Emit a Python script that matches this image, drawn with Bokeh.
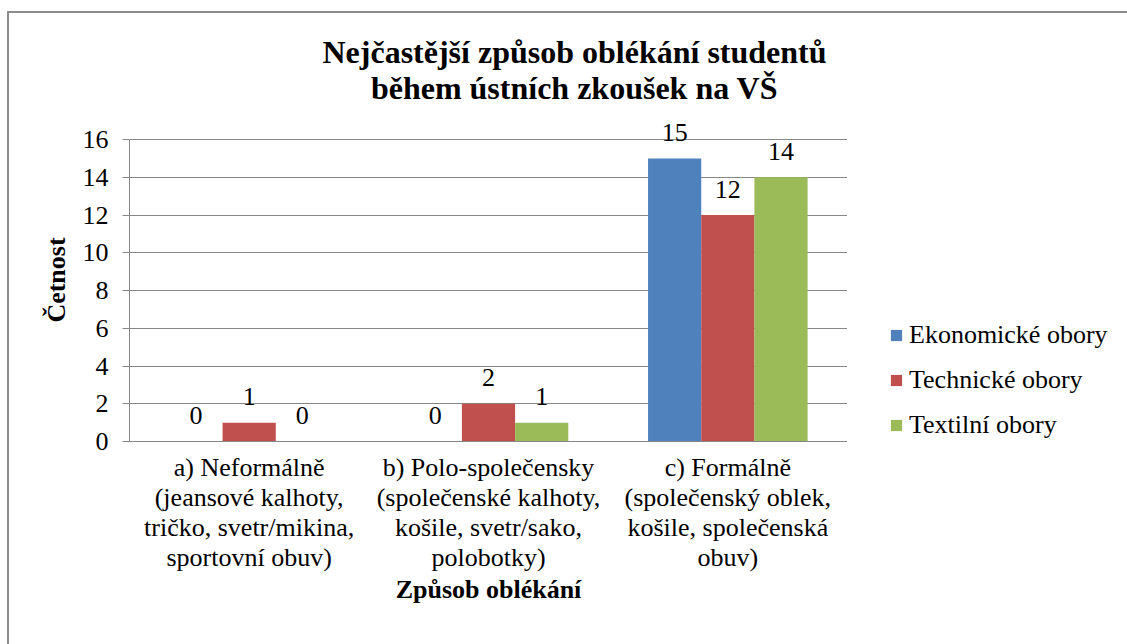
from bokeh.plotting import figure
from bokeh.layouts import column, row
from bokeh.models import (Range1d, FixedTicker, Legend, LegendItem, Label,
                          ColumnDataSource)
from bokeh.transform import dodge
from bokeh.core.properties import value
from bokeh.embed import file_html
from bokeh.resources import INLINE

# ---- data ----
categories = [
    "a) Neformálně\n(jeansové kalhoty,\ntričko, svetr/mikina,\nsportovní obuv)",
    "b) Polo-společensky\n(společenské kalhoty,\nkošile, svetr/sako,\npolobotky)",
    "c) Formálně\n(společenský oblek,\nkošile, společenská\nobuv)",
]
series_names = ["Ekonomické obory", "Technické obory", "Textilní obory"]
ekonomicke = [0, 0, 15]
technicke = [1, 2, 12]
textilni = [0, 1, 14]
series_values = [ekonomicke, technicke, textilni]
colors = ["#4F81BD", "#C0504D", "#9BBB59"]
y_ticks = [0, 2, 4, 6, 8, 10, 12, 14, 16]
title_lines = ["Nejčastější způsob oblékání studentů", "během ústních zkoušek na VŠ"]
y_label = "Četnost"
x_label = "Způsob oblékání"

FONT = "Liberation Serif"
GRAY = "#878787"
FS = "26px"

n_cat = len(categories)
cat_pos = [i + 0.5 for i in range(n_cat)]
y_max = y_ticks[-1]

# ---- sizes (whole chart 1118 x 631 inside a 7/11 px offset + 2 px border) ----
TOTAL_W, TOTAL_H = 1118, 631
TITLE_H = 105
MAIN_W = 838
LEG_W = TOTAL_W - MAIN_W
BODY_H = TOTAL_H - TITLE_H
LEFT = 120
BOTTOM = 203
data_h_px = 302
y_end = y_max * (BODY_H - BOTTOM) / data_h_px

# ---- title strip ----
ft = figure(width=TOTAL_W, height=TITLE_H, x_range=Range1d(0, 1), y_range=Range1d(0, 1),
            x_axis_type=None, y_axis_type=None, output_backend="svg",
            toolbar_location=None, min_border=0)
ft.outline_line_color = None
ft.grid.visible = False
for txt, yy in zip(title_lines, [67, 31]):
    ft.add_layout(Label(x=565, y=yy, x_units="screen", y_units="screen", text=txt,
                        text_align="center", text_baseline="middle",
                        text_font=FONT, text_font_style="bold",
                        text_font_size="32px", text_color="black"))

# ---- main chart ----
p = figure(width=MAIN_W, height=BODY_H,
           x_range=Range1d(0, n_cat), y_range=Range1d(0, y_end),
           output_backend="svg", toolbar_location=None,
           min_border_left=LEFT, min_border_right=0,
           min_border_top=0, min_border_bottom=BOTTOM)
p.outline_line_color = None
p.background_fill_color = "white"
p.border_fill_color = "white"

bar_w = 1 / 4.5
offsets = [-bar_w, 0.0, bar_w]
for name, vals, col, off in zip(series_names, series_values, colors, offsets):
    src = ColumnDataSource(dict(x=cat_pos, y=vals, label=[str(v) for v in vals]))
    p.vbar(x=dodge("x", off), top="y", width=bar_w,
           fill_color=col, line_color=None, source=src)
    p.text(x=dodge("x", off), y="y", text="label", source=src,
           text_align="center", text_baseline="middle", y_offset=-26,
           text_font=value(FONT), text_font_size=FS, text_color="black")

# y axis
p.yaxis.bounds = (0, y_max)
p.yaxis.ticker = FixedTicker(ticks=y_ticks)
p.yaxis.axis_line_color = GRAY
p.yaxis.major_tick_line_color = GRAY
p.yaxis.major_tick_out = 7
p.yaxis.major_tick_in = 0
p.yaxis.minor_tick_line_color = None
p.yaxis.major_label_text_font = FONT
p.yaxis.major_label_text_font_size = FS
p.yaxis.major_label_text_color = "black"
p.yaxis.major_label_standoff = 14
p.yaxis.axis_label = y_label
p.yaxis.axis_label_text_font = FONT
p.yaxis.axis_label_text_font_style = "bold"
p.yaxis.axis_label_text_font_size = FS
p.yaxis.axis_label_text_color = "black"
p.yaxis.axis_label_standoff = 9

p.xgrid.visible = False
p.ygrid.grid_line_color = GRAY
p.ygrid.grid_line_width = 1

# x axis
p.xaxis.bounds = (0, n_cat)
p.xaxis.ticker = FixedTicker(ticks=cat_pos)
p.xaxis.major_label_overrides = {pos: lab for pos, lab in zip(cat_pos, categories)}
p.xaxis.axis_line_color = GRAY
p.xaxis.major_tick_line_color = None
p.xaxis.minor_tick_line_color = None
p.xaxis.major_tick_out = 0
p.xaxis.major_tick_in = 0
p.xaxis.major_label_text_font = FONT
p.xaxis.major_label_text_font_size = FS
p.xaxis.major_label_text_color = "black"
p.xaxis.major_label_text_line_height = 1.04
p.xaxis.major_label_standoff = 11
p.xaxis.major_label_orientation = "horizontal"
p.xaxis.axis_label = x_label
p.xaxis.axis_label_text_font = FONT
p.xaxis.axis_label_text_font_style = "bold"
p.xaxis.axis_label_text_font_size = FS
p.xaxis.axis_label_text_color = "black"
p.xaxis.axis_label_standoff = 0

# ---- legend panel (its frame is aligned with the main plot frame) ----
pl = figure(width=LEG_W, height=BODY_H, x_range=Range1d(0, 1), y_range=Range1d(0, 1),
            x_axis_type=None, y_axis_type=None, output_backend="svg",
            toolbar_location=None, min_border=0)
pl.outline_line_color = None
pl.grid.visible = False
items = []
for name, col in zip(series_names, colors):
    # zero-size swatch carrier for the legend entry
    r = pl.vbar(x=[0], top=[0], width=0, fill_color=col, line_color=None)
    items.append(LegendItem(label=name, renderers=[r]))
legend = Legend(items=items, location=(42, 1), orientation="vertical",
                label_text_font=FONT, label_text_font_size=FS,
                label_text_color="black",
                glyph_width=14, glyph_height=14, label_standoff=6,
                spacing=15, padding=0, margin=0, label_height=30,
                border_line_alpha=0, background_fill_alpha=0)
pl.add_layout(legend)

layout = column(ft, row(p, pl))
layout.styles = {"margin-left": "7px", "margin-top": "11px",
                 "border-left": "2px solid #8c8c8c", "border-top": "2px solid #8c8c8c"}

open("out.html", "w").write(file_html(layout, INLINE))
